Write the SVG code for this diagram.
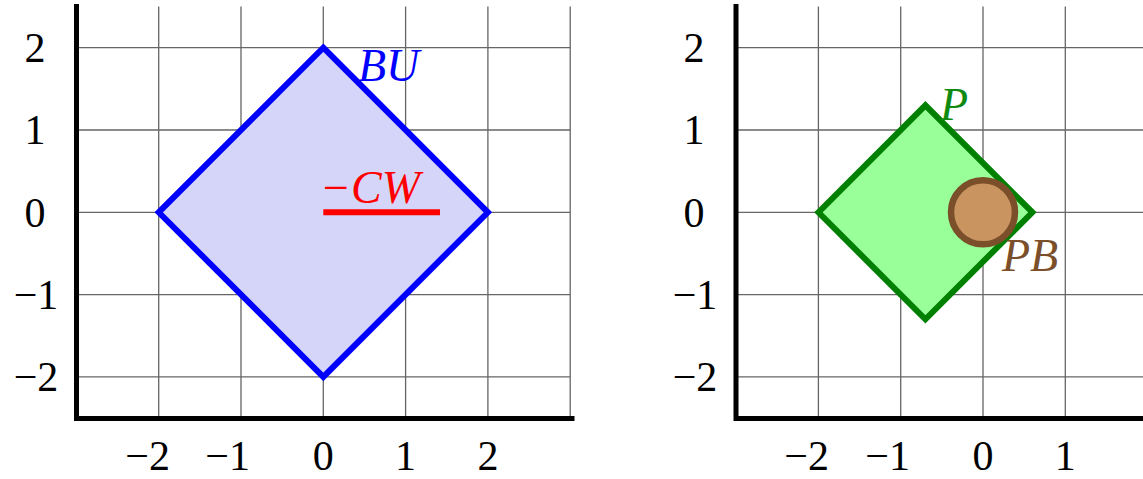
<svg xmlns="http://www.w3.org/2000/svg" width="1143" height="479" viewBox="0 0 1143 479">
<style>
.grid{stroke:#666;stroke-width:1.3;fill:none}
.axis{stroke:#000;stroke-width:5;fill:none;stroke-linecap:square}
.tick{font-family:"Liberation Serif","DejaVu Serif",serif;font-size:42px;fill:#000}
.mid{text-anchor:middle}
.end{text-anchor:end}
.cal{font-family:"Liberation Serif","DejaVu Serif",serif;font-style:italic;font-size:46px}
</style>
<rect width="1143" height="479" fill="#fff"/>
<g id="left-plot">
<g id="left-grid" class="grid">
<path d="M158.7 6.5V418M241 6.5V418M323.3 6.5V418M405.6 6.5V418M487.9 6.5V418M570.2 6.5V418"/>
<path d="M76 47.7H570.2M76 130H570.2M76 212.3H570.2M76 294.6H570.2M76 376.9H570.2"/>
</g>
<g id="BU">
<polygon points="323.3,47.7 487.9,212.3 323.3,376.9 158.7,212.3" fill="#d5d5fa" stroke="#0000ff" stroke-width="6" stroke-linejoin="miter"/>
<text class="cal" x="358" y="81" fill="#0000ff">BU</text>
</g>
<g id="CW">
<line x1="323.3" y1="212.3" x2="440" y2="212.3" stroke="#ff0000" stroke-width="6"/>
<text class="cal" x="320" y="203" fill="#ff0000">−CW</text>
</g>
<g id="left-axes" class="axis">
<path d="M76.5 6.5V418.5H572"/>
</g>
<g id="left-yticks" class="tick mid">
<text x="35" y="62">2</text>
<text x="35" y="144">1</text>
<text x="35" y="227">0</text>
<text x="36" y="309">−1</text>
<text x="36" y="391">−2</text>
</g>
<g id="left-xticks" class="tick">
<text class="end" x="170" y="469.5">−2</text>
<text class="end" x="250" y="469.5">−1</text>
<text class="mid" x="323.3" y="469.5">0</text>
<text class="mid" x="405.6" y="469.5">1</text>
<text class="mid" x="487.9" y="469.5">2</text>
</g>
</g>
<g id="right-plot">
<g id="right-grid" class="grid">
<path d="M818.4 6.5V418M900.7 6.5V418M983 6.5V418M1065.3 6.5V418"/>
<path d="M736 47.7H1143M736 130H1143M736 212.3H1143M736 294.6H1143M736 376.9H1143"/>
</g>
<g id="P">
<polygon points="818.4,212.3 925.4,105.3 1032.4,212.3 925.4,319.3" fill="#99ff99" stroke="#008000" stroke-width="6"/>
<text class="cal" x="940" y="120" fill="#108a10">P</text>
</g>
<g id="PB">
<circle cx="983" cy="212.3" r="32" fill="#c99460" stroke="#7a4f2a" stroke-width="6.5"/>
<text class="cal" x="1002" y="271" fill="#7a4f2a">PB</text>
</g>
<g id="right-axes" class="axis">
<path d="M736 6.5V418.5H1145"/>
</g>
<g id="right-yticks" class="tick mid">
<text x="694" y="62">2</text>
<text x="694" y="144">1</text>
<text x="694" y="227">0</text>
<text x="695" y="309">−1</text>
<text x="695" y="391">−2</text>
</g>
<g id="right-xticks" class="tick">
<text class="end" x="829" y="469.5">−2</text>
<text class="end" x="910" y="469.5">−1</text>
<text class="mid" x="983" y="469.5">0</text>
<text class="mid" x="1065.3" y="469.5">1</text>
</g>
</g>
</svg>
